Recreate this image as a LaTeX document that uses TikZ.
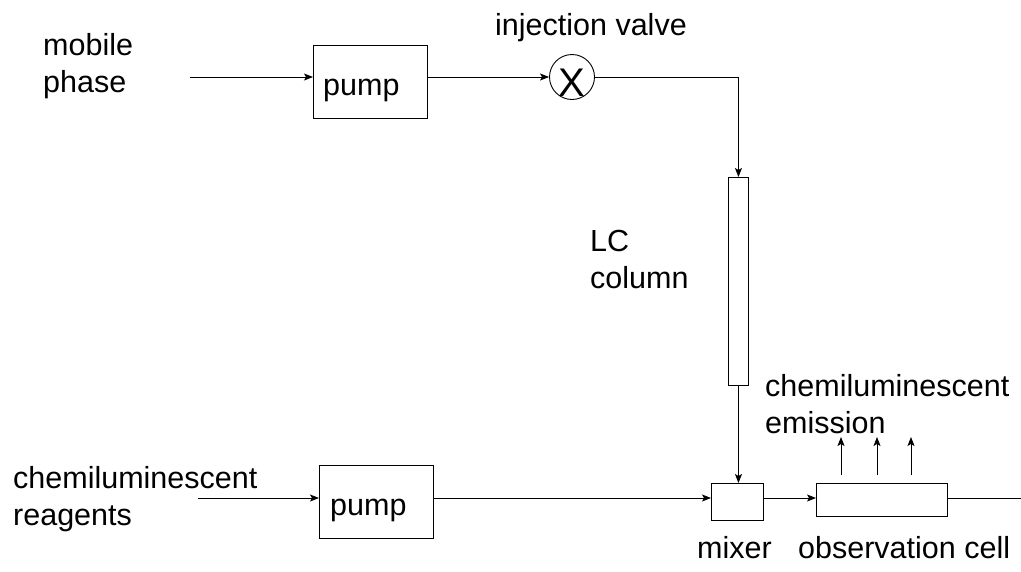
\documentclass[tikz,border=0pt]{standalone}
\usepackage{fontspec}
\setmainfont{Liberation Sans}
\usetikzlibrary{arrows.meta}
\begin{document}
\begin{tikzpicture}[x=1pt,y=-1pt,
    box/.style={draw, line width=0.9pt, inner sep=0pt, anchor=north west},
    lbl/.style={anchor=base west, align=left, inner sep=0pt, font=\fontsize{30.5}{37}\selectfont},
    flow/.style={line width=0.9pt, -{Stealth[length=9pt,width=7pt,inset=2pt]}}]
    \useasboundingbox (0,0) rectangle (1021,571);
    % Linea superiore: fase mobile
    \node[box, minimum width=114pt, minimum height=73pt] (pumpA) at (313,45) {};
    \node[lbl] (pumpAtxt) at (323,95) {pump};
    \node[draw, circle, line width=0.9pt, minimum size=45pt, inner sep=0pt] (valve) at (572,77) {};
    \node[inner sep=0pt, font=\fontsize{40}{40}\selectfont] (valvex) at (572,83) {X};
    \node[box, minimum width=20pt, minimum height=208pt] (column) at (728,177) {};
    \coordinate (inA) at (190,77);
    \draw[flow] (inA) -- (inA -| pumpA.west);
    \draw[flow] (inA -| pumpA.east) -- (valve.west);
    \draw[flow] (valve.east) -| (column.north);
    % Linea inferiore: reagenti
    \node[box, minimum width=114pt, minimum height=73pt] (pumpB) at (319,465) {};
    \node[lbl] (pumpBtxt) at (330,515) {pump};
    \node[box, minimum width=52pt, minimum height=37pt] (mixer) at (711,483) {};
    \node[box, minimum width=131pt, minimum height=33pt] (cell) at (816,483) {};
    \coordinate (inB) at (198,498);
    \coordinate (out) at (1021,498);
    \draw[flow] (column.south) -- (column.south |- mixer.north);
    \draw[flow] (inB) -- (inB -| pumpB.west);
    \draw[flow] (inB -| pumpB.east) -- (inB -| mixer.west);
    \draw[flow] (inB -| mixer.east) -- (inB -| cell.west);
    \draw[line width=0.9pt] (inB -| cell.east) -- (out);
    % Emissione
    \foreach \x in {841,877,911}
        \draw[flow] (\x,475) -- ++(0,-38);
    % Etichette (base = ultima riga)
    \node[lbl] (mobile) at (43,92) {mobile\\phase};
    \node[lbl] (reagents) at (13,525) {chemiluminescent\\reagents};
    \node[lbl] (valvelbl) at (495,35) {injection valve};
    \node[lbl] (columnlbl) at (590,288) {LC\\column};
    \node[lbl] (emission) at (765,433) {chemiluminescent\\emission};
    \node[lbl] (mixerlbl) at (697,558) {mixer};
    \node[lbl] (celllbl) at (798,558) {observation cell};
\end{tikzpicture}
\end{document}
